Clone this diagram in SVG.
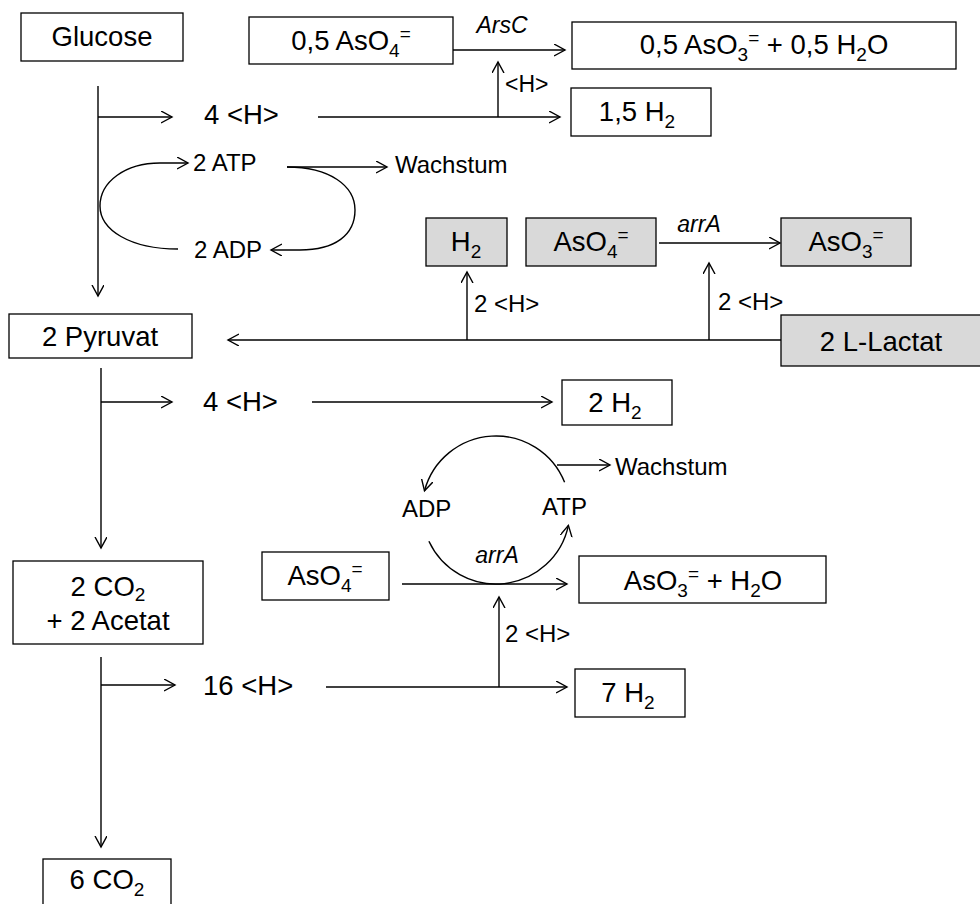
<svg xmlns="http://www.w3.org/2000/svg" width="980" height="904" viewBox="0 0 980 904">
<style>
.box{fill:#fff;stroke:#000;stroke-width:1.3}
.gbox{fill:#d9d9d9;stroke:#000;stroke-width:1.3}
text{font-family:"Liberation Sans",Arial,sans-serif;font-size:27.5px;fill:#000}
.m{font-size:24px}
.i{font-style:italic;font-size:23px}
.s{font-size:19px}
.ln{fill:none;stroke:#000;stroke-width:1.4}
</style>
<defs>
<marker id="a" markerUnits="userSpaceOnUse" markerWidth="14" markerHeight="14" refX="11" refY="6" orient="auto"><path d="M0,0 L11,6 L0,12" fill="none" stroke="#000" stroke-width="1.4"/></marker>
</defs>
<rect width="980" height="904" fill="#fff"/>

<g id="connectors" class="ln">
<path d="M98,86 L98,296" marker-end="url(#a)"/>
<path d="M98,117 L172,117" marker-end="url(#a)"/>
<path d="M318,117 L560,117" marker-end="url(#a)"/>
<path d="M498,117 L498,62" marker-end="url(#a)"/>
<path d="M453,50 L565,50" marker-end="url(#a)"/>
<path d="M178,249 C130,249 100,230 100,206 C100,182 125,163 160,163 L188,163" marker-end="url(#a)"/>
<path d="M287,167 C330,167 355,186 355,210 C355,235 335,250 300,250 L271,250" marker-end="url(#a)"/>
<path d="M287,167 L387,167" marker-end="url(#a)"/>
<path d="M781,340 L228,340" marker-end="url(#a)"/>
<path d="M467,340 L467,272" marker-end="url(#a)"/>
<path d="M709,340 L709,263" marker-end="url(#a)"/>
<path d="M659,243 L780,243" marker-end="url(#a)"/>
<path d="M101,368 L101,548" marker-end="url(#a)"/>
<path d="M101,402 L172,402" marker-end="url(#a)"/>
<path d="M312,402 L552,402" marker-end="url(#a)"/>
<path d="M564.6,482.3 A74,74 0 0 0 424.5,490.8" marker-end="url(#a)"/>
<path d="M428.9,541.3 A74,74 0 0 0 568.4,525.4" marker-end="url(#a)"/>
<path d="M557,465 L610,465" marker-end="url(#a)"/>
<path d="M402,584 L567,584" marker-end="url(#a)"/>
<path d="M499,687 L499,597" marker-end="url(#a)"/>
<path d="M101,657 L101,847" marker-end="url(#a)"/>
<path d="M101,685 L175,685" marker-end="url(#a)"/>
<path d="M326,687 L567,687" marker-end="url(#a)"/>
</g>

<g id="glucose"><rect class="box" x="21" y="13" width="162" height="48"/><text x="102" y="46" text-anchor="middle">Glucose</text></g>
<g id="aso4-top"><rect class="box" x="249" y="17" width="204" height="47"/><text x="351" y="50" text-anchor="middle">0,5 AsO<tspan class="s" dy="7">4</tspan><tspan class="s" dy="-17">=</tspan></text></g>
<g id="arsc"><text class="i" x="502" y="33" text-anchor="middle">ArsC</text></g>
<g id="aso3-top"><rect class="box" x="572" y="22" width="384" height="47"/><text x="764" y="54" text-anchor="middle">0,5 AsO<tspan class="s" dy="7">3</tspan><tspan class="s" dy="-17">=</tspan><tspan dy="10"> + 0,5 H</tspan><tspan class="s" dy="7">2</tspan><tspan dy="-7">O</tspan></text></g>
<g id="h-label-top"><text class="i" style="font-style:normal" x="505" y="92">&lt;H&gt;</text></g>
<g id="h4-top"><text x="204" y="124">4 &lt;H&gt;</text></g>
<g id="h2-15"><rect class="box" x="571" y="88" width="140" height="48"/><text x="637" y="121" text-anchor="middle">1,5 H<tspan class="s" dy="7">2</tspan></text></g>
<g id="atp-top"><text class="m" x="193" y="171">2 ATP</text></g>
<g id="wachstum-top"><text class="m" x="395" y="173">Wachstum</text></g>
<g id="adp-top"><text class="m" x="194" y="258">2 ADP</text></g>

<g id="h2-gray"><rect class="gbox" x="426" y="218" width="81" height="48"/><text x="466" y="251" text-anchor="middle">H<tspan class="s" dy="7">2</tspan></text></g>
<g id="aso4-gray"><rect class="gbox" x="526" y="218" width="130" height="48"/><text x="591" y="251" text-anchor="middle">AsO<tspan class="s" dy="7">4</tspan><tspan class="s" dy="-17">=</tspan></text></g>
<g id="arra-top"><text class="i" x="699" y="232" text-anchor="middle">arrA</text></g>
<g id="aso3-gray"><rect class="gbox" x="781" y="218" width="130" height="48"/><text x="846" y="251" text-anchor="middle">AsO<tspan class="s" dy="7">3</tspan><tspan class="s" dy="-17">=</tspan></text></g>
<g id="h2-label-1"><text class="m" x="474" y="312">2 &lt;H&gt;</text></g>
<g id="h2-label-2"><text class="m" x="718" y="310">2 &lt;H&gt;</text></g>
<g id="lactat"><rect class="gbox" x="781" y="315" width="205" height="51"/><text x="881" y="351" text-anchor="middle">2 L-Lactat</text></g>
<g id="pyruvat"><rect class="box" x="9" y="314" width="183" height="44"/><text x="100" y="346" text-anchor="middle">2 Pyruvat</text></g>

<g id="h4-mid"><text x="203" y="411">4 &lt;H&gt;</text></g>
<g id="h2-2"><rect class="box" x="562" y="380" width="110" height="45"/><text x="615" y="412" text-anchor="middle">2 H<tspan class="s" dy="7">2</tspan></text></g>

<g id="wachstum-low"><text class="m" x="615" y="475">Wachstum</text></g>
<g id="adp-low"><text class="m" x="402" y="517">ADP</text></g>
<g id="atp-low"><text class="m" x="542" y="515">ATP</text></g>
<g id="arra-low"><text class="i" x="497" y="563" text-anchor="middle">arrA</text></g>
<g id="aso4-low"><rect class="box" x="262" y="552" width="127" height="48"/><text x="325" y="585" text-anchor="middle">AsO<tspan class="s" dy="7">4</tspan><tspan class="s" dy="-17">=</tspan></text></g>
<g id="aso3-low"><rect class="box" x="579" y="556" width="247" height="47"/><text x="703" y="590" text-anchor="middle">AsO<tspan class="s" dy="7">3</tspan><tspan class="s" dy="-17">=</tspan><tspan dy="10"> + H</tspan><tspan class="s" dy="7">2</tspan><tspan dy="-7">O</tspan></text></g>
<g id="co2-acetat"><rect class="box" x="13" y="561" width="190" height="83"/><text x="108" y="596" text-anchor="middle">2 CO<tspan class="s" dy="5">2</tspan></text><text x="108" y="630" text-anchor="middle">+ 2 Acetat</text></g>
<g id="h16"><text x="203" y="695">16 &lt;H&gt;</text></g>
<g id="h2-label-3"><text class="m" x="505" y="642">2 &lt;H&gt;</text></g>
<g id="h2-7"><rect class="box" x="575" y="669" width="110" height="48"/><text x="628" y="702" text-anchor="middle">7 H<tspan class="s" dy="7">2</tspan></text></g>
<g id="co2-6"><rect class="box" x="43" y="859" width="128" height="50"/><text x="107" y="889" text-anchor="middle">6 CO<tspan class="s" dy="7">2</tspan></text></g>
</svg>
